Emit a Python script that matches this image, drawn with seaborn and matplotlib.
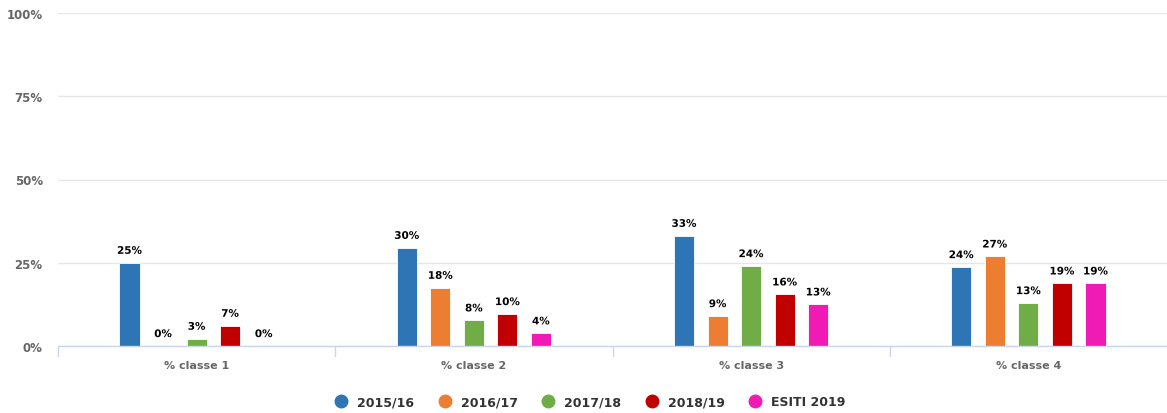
import numpy as np
import pandas as pd
import matplotlib
matplotlib.use('Agg')
import matplotlib.pyplot as plt
import matplotlib.patheffects as pe
from matplotlib.lines import Line2D
import seaborn as sns

# dati
categories = ['% classe 1', '% classe 2', '% classe 3', '% classe 4']
series = ['2015/16', '2016/17', '2017/18', '2018/19', 'ESITI 2019']
colors = ['#2e75b6', '#ed7d31', '#70ad47', '#c00000', '#f01ab4']
values = {
    '2015/16':    [25.0, 29.5, 33.1, 23.7],
    '2016/17':    [0.0, 17.5, 9.0, 26.9],
    '2017/18':    [2.2, 7.7, 24.0, 12.9],
    '2018/19':    [6.1, 9.6, 15.5, 18.8],
    'ESITI 2019': [0.0, 3.8, 12.5, 18.8],
}
labels = {
    '2015/16':    ['25%', '30%', '33%', '24%'],
    '2016/17':    ['0%', '18%', '9%', '27%'],
    '2017/18':    ['3%', '8%', '24%', '13%'],
    '2018/19':    ['7%', '10%', '16%', '19%'],
    'ESITI 2019': ['0%', '4%', '13%', '19%'],
}
yticks = [0, 25, 50, 75, 100]

rows = []
for s in series:
    for c, v in zip(categories, values[s]):
        rows.append({'categoria': c, 'anno': s, 'valore': v})
df = pd.DataFrame(rows)

sns.set_style('white')
plt.rcParams['font.family'] = ['DejaVu Sans']

fig = plt.figure(figsize=(11.67, 4.14), dpi=100)
ax = fig.add_axes([58 / 1167, 67 / 414, 1 - 58 / 1167, 333 / 414])

sns.barplot(data=df, x='categoria', y='valore', hue='anno', order=categories,
            hue_order=series, palette=colors, width=0.605, gap=0.4,
            edgecolor='white', linewidth=0.6, saturation=1, legend=False, ax=ax)

# etichette sopra le barre
for s, cont in zip(series, ax.containers):
    for bar, lab in zip(cont, labels[s]):
        x = bar.get_x() + bar.get_width() / 2
        ax.annotate(lab, (x, bar.get_height()), xytext=(0, 5), textcoords='offset points',
                    ha='center', va='bottom', fontsize=7.5, fontweight='bold', color='black',
                    path_effects=[pe.withStroke(linewidth=2, foreground='white')])

ax.set_xlim(-0.5, len(categories) - 0.5)
ax.set_ylim(0, 100)
ax.set_yticks(yticks)
ax.set_yticklabels([f'{t}%' for t in yticks])
ax.yaxis.grid(True, color='#e6e6e6', linewidth=1)
ax.set_axisbelow(True)
ax.set_xlabel('')
ax.set_ylabel('')

for sp in ['top', 'right', 'left']:
    ax.spines[sp].set_visible(False)
ax.spines['bottom'].set_color('#ccd6eb')
ax.spines['bottom'].set_linewidth(1)

ax.tick_params(axis='y', length=0, pad=11, labelsize=8.5, labelcolor='#666666')
for t in ax.get_yticklabels():
    t.set_fontweight('bold')
ax.tick_params(axis='x', length=0, pad=10, labelsize=8, labelcolor='#666666')
for t in ax.get_xticklabels():
    t.set_fontweight('bold')

# tacche tra le categorie
for b in np.arange(-0.5, len(categories) - 0.5, 1.0):
    ax.plot([b, b], [0, -3.0], color='#ccd6eb', linewidth=1, clip_on=False)

# legenda
handles = [Line2D([0], [0], marker='o', linestyle='', markersize=9,
                  markerfacecolor=c, markeredgecolor=c) for c in colors]
leg = fig.legend(handles, series, loc='center', bbox_to_anchor=(0.503, 11 / 414),
                 ncol=5, frameon=False, fontsize=9, handletextpad=0.3, columnspacing=1.42)
for t in leg.get_texts():
    t.set_fontweight('bold')
    t.set_color('#333333')

fig.savefig('out.png', dpi=100)
